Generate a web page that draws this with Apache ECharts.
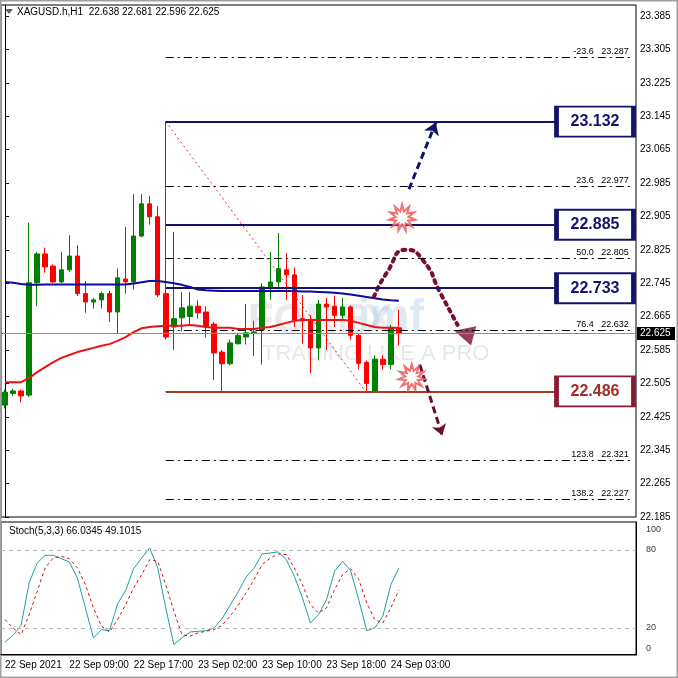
<!DOCTYPE html>
<html><head><meta charset="utf-8">
<script src="https://cdn.jsdelivr.net/npm/echarts@6/dist/echarts.min.js"></script>
<style>html,body{margin:0;padding:0;background:#fff}#c{width:678px;height:678px}</style>
</head><body><div id="c"></div>
<script>
const opens=[22.453,22.481,22.487,22.477,22.746,22.815,22.786,22.748,22.777,22.81,22.72,22.70,22.705,22.72,22.676,22.755,22.748,22.858,22.935,22.904,22.72,22.64,22.662,22.665,22.69,22.676,22.647,22.58,22.552,22.60,22.616,22.627,22.633,22.734,22.748,22.777,22.765,22.66,22.657,22.59,22.695,22.69,22.668,22.688,22.62,22.555,22.486,22.563,22.55,22.638];
const highs=[22.49,22.492,22.49,22.89,22.82,22.83,22.79,22.82,22.86,22.836,22.75,22.71,22.725,22.727,22.78,22.88,22.958,22.958,22.954,22.93,23.132,22.868,22.724,22.724,22.704,22.69,22.652,22.585,22.61,22.625,22.695,22.655,22.745,22.82,22.865,22.817,22.782,22.717,22.668,22.705,22.71,22.715,22.71,22.692,22.625,22.56,22.572,22.572,22.645,22.681];
const lows=[22.445,22.475,22.46,22.472,22.69,22.77,22.745,22.745,22.772,22.714,22.674,22.684,22.684,22.652,22.623,22.72,22.73,22.855,22.885,22.712,22.61,22.585,22.63,22.645,22.66,22.615,22.513,22.482,22.548,22.598,22.598,22.57,22.55,22.705,22.73,22.705,22.64,22.60,22.53,22.56,22.585,22.64,22.655,22.61,22.538,22.482,22.482,22.538,22.538,22.596];
const closes=[22.484,22.487,22.475,22.746,22.815,22.784,22.748,22.777,22.81,22.72,22.70,22.705,22.72,22.676,22.758,22.748,22.858,22.935,22.904,22.717,22.616,22.66,22.686,22.69,22.674,22.64,22.578,22.552,22.602,22.62,22.626,22.628,22.736,22.748,22.78,22.765,22.657,22.655,22.59,22.695,22.688,22.668,22.688,22.62,22.553,22.505,22.563,22.55,22.637,22.625];
const maSlow=[22.748,22.746,22.743,22.741,22.741,22.742,22.742,22.742,22.742,22.742,22.742,22.742,22.742,22.742,22.742,22.742,22.744,22.747,22.750,22.750,22.748,22.745,22.741,22.736,22.730,22.728,22.727,22.726,22.726,22.726,22.726,22.726,22.726,22.726,22.726,22.726,22.726,22.725,22.725,22.724,22.723,22.722,22.720,22.718,22.715,22.712,22.709,22.706,22.704,22.703];
const maFast=[22.508,22.508,22.508,22.518,22.532,22.544,22.556,22.566,22.573,22.580,22.585,22.590,22.595,22.599,22.607,22.616,22.628,22.637,22.640,22.642,22.643,22.643,22.643,22.645,22.643,22.640,22.638,22.638,22.638,22.635,22.635,22.635,22.638,22.640,22.645,22.650,22.655,22.657,22.657,22.657,22.657,22.657,22.657,22.655,22.650,22.645,22.640,22.638,22.638,22.638];
const stochMain=[9.2,14.4,22,54.6,70,75.9,75.9,73.3,70.8,58.5,35.4,12.3,18.7,17.9,38.5,48.7,65.6,73.8,81.5,66.2,35.4,7.2,12.3,16.9,17.4,17.9,20,27.2,37.4,47.7,59.2,66.2,76.9,77.7,78.5,72.5,59.7,43.1,23.8,30.2,41.8,63.6,71.3,64,41.8,17.9,20,29,53.3,66.03];
const stochSignal=[26.4,20,14.9,30.2,48.2,66.2,73.8,75.1,73.3,66.2,53.3,35.4,21.3,16.9,26.4,37.9,50.8,61,72.5,71.3,53.3,33.1,14.9,13.6,16.2,17.4,18.7,22,29,37.4,46.9,57.4,68.7,73.8,76.9,76.4,66.2,53.3,37.9,31.5,35.4,49.5,61,65.6,57.4,39.2,26.4,23.8,35.4,49.1];
const timeLabels={0:'22 Sep 2021',8:'22 Sep 09:00',16:'22 Sep 17:00',24:'23 Sep 02:00',32:'23 Sep 10:00',40:'23 Sep 18:00',48:'24 Sep 03:00'};
const levels=[{v:23.132,t:'23.132',c:'#13136b',tc:'#13136b'},{v:22.885,t:'22.885',c:'#13136b',tc:'#13136b'},{v:22.733,t:'22.733',c:'#13136b',tc:'#13136b'},{v:22.486,t:'22.486',c:'#8b1a33',tc:'#a0302a'}];
const levelLine={'22.486':'#a0401a'};
const fibo=[['-23.6',23.287],['',23.132],['23.6',22.977],['50.0',22.805],['76.4',22.632],['',22.486],['123.8',22.321],['138.2',22.227]];
const lastPrice=22.625, fiboStart=20, fiboEnd=[45,22.482];
const yTicks={min:22.185,interval:0.08};
const stochLabels=[[100,96],[80,80],[20,20],[0,4]];
const NCAT=79;
const cats=[];for(let i=0;i<NCAT;i++)cats.push(timeLabels[i]||('c'+i));
const candleData=opens.map((o,i)=>[o,closes[i],lows[i],highs[i]]);
const pad=a=>a.concat(new Array(NCAT-a.length).fill('-'));
const arrowUp=[[50.25,22.97],[53.6,23.13]];
const arrowDown=[[51.6,22.55],[54.4,22.38]];
const curve=[[45.9,22.712],[47.5,22.77],[49.9,22.825],[52,22.80],[54.2,22.72],[56.3,22.645]];
const arrowHeadPt=[57.1,22.625];
const stars=[[49.4,22.902],[50.6,22.52]];
function starPath(){let p='';const n=11;for(let i=0;i<n*2;i++){const r=i%2?0.5:1;const a=i*Math.PI/n;p+=(i?'L':'M')+(50+50*r*Math.sin(a)).toFixed(1)+' '+(50-50*r*Math.cos(a)).toFixed(1);}return 'path://'+p+'Z';}
const dashDot=[8,4,2,4];
const chart=echarts.init(document.getElementById('c'),null,{renderer:'canvas'});
const fnt='Liberation Sans';
chart.setOption({
  animation:false,backgroundColor:'#fff',
  textStyle:{fontFamily:fnt},
  grid:[{left:1,right:42,top:5,height:512,show:true,borderColor:'#000',borderWidth:1},
        {left:1,right:42,top:522,height:133,show:true,borderColor:'#000',borderWidth:1}],
  xAxis:[
    {type:'category',data:cats,gridIndex:0,boundaryGap:true,axisLine:{show:false},axisTick:{show:false},axisLabel:{show:false}},
    {type:'value',gridIndex:0,min:-0.5,max:NCAT-0.5,show:false},
    {type:'category',data:cats,gridIndex:1,boundaryGap:true,axisLine:{lineStyle:{color:'#000'}},
     axisTick:{alignWithLabel:true,interval:(i)=>timeLabels[i]!==undefined,lineStyle:{color:'#000'},length:4},
     axisLabel:{interval:(i)=>timeLabels[i]!==undefined,formatter:v=>v.startsWith('c')?'':v,align:'left',color:'#000',fontSize:10,margin:5,fontFamily:fnt}}
  ],
  yAxis:[
    {type:'value',gridIndex:0,position:'right',min:yTicks.min,max:yTicks.min+512*0.002395,interval:yTicks.interval,splitLine:{show:false},
     axisLine:{show:true,lineStyle:{color:'#000'}},axisTick:{show:true,length:4,lineStyle:{color:'#000'}},
     axisLabel:{color:'#000',fontSize:10,margin:4,formatter:v=>v.toFixed(3),showMaxLabel:false,fontFamily:fnt}},
    {type:'value',gridIndex:1,position:'right',min:-0.8,max:101.5,splitLine:{show:false},axisLine:{show:true,lineStyle:{color:'#000'}},axisTick:{show:false},axisLabel:{show:false}}
  ],
  series:[
    {type:'candlestick',xAxisIndex:0,yAxisIndex:0,data:candleData,barWidth:5,
     itemStyle:{color:'#008000',color0:'#ff0000',borderColor:'#008000',borderColor0:'#ff0000',borderWidth:1}},
    {type:'line',xAxisIndex:0,yAxisIndex:0,data:pad(maSlow),symbol:'none',lineStyle:{color:'#0a0aa0',width:2},z:3},
    {type:'line',xAxisIndex:0,yAxisIndex:0,data:pad(maFast),symbol:'none',lineStyle:{color:'#ee1111',width:2},z:3},
    {type:'line',xAxisIndex:1,yAxisIndex:0,data:[],symbol:'none',z:1,
     markLine:{silent:true,symbol:'none',animation:false,
       data:[
         [{coord:[-0.5,lastPrice],lineStyle:{color:'#8c8c8c',width:1,type:'solid'},label:{show:false}},{coord:[NCAT-0.5,lastPrice]}],
         [{coord:[fiboStart,highs[fiboStart]],lineStyle:{color:'#e03030',width:1,type:[2,3]},label:{show:false}},{coord:fiboEnd}],
         ...fibo.map(f=>[{coord:[fiboStart,f[1]],lineStyle:{color:'#000',width:1,type:dashDot},
            label:{show:!!f[0],position:'insideEndTop',formatter:f[0]+'   '+f[1].toFixed(3),color:'#000',fontSize:9,distance:[4,1]}},{coord:[NCAT-0.9,f[1]]}]),
         ...levels.map(l=>[{coord:[fiboStart,l.v],lineStyle:{color:levelLine[l.t]||l.c,width:2,type:'solid'},label:{show:false}},{coord:[NCAT-0.5,l.v]}]),
         [{coord:arrowUp[0],lineStyle:{color:'#13136b',width:3,type:[7,4]},symbol:'none',label:{show:false}},{coord:arrowUp[1],symbol:'arrow',symbolSize:12}],
         [{coord:arrowDown[0],lineStyle:{color:'#6b0f2a',width:3,type:[7,4]},symbol:'none',label:{show:false}},{coord:arrowDown[1],symbol:'arrow',symbolSize:11}]
       ]},
     markPoint:{silent:true,animation:false,data:levels.map(l=>({coord:[73.4,l.v],symbol:'rect',symbolSize:[77,30],
        itemStyle:{color:'#fff',borderColor:l.c,borderWidth:3},
        label:{show:true,position:'inside',formatter:l.t,color:l.tc,fontWeight:'bold',fontSize:16,fontFamily:'Liberation Sans'}}))}},
    {type:'line',xAxisIndex:1,yAxisIndex:0,data:curve,smooth:0.6,symbol:'none',lineStyle:{color:'#7a1030',width:4,type:[3,5],cap:'round'},z:4},
    {type:'scatter',xAxisIndex:1,yAxisIndex:0,data:[arrowHeadPt],symbol:'triangle',symbolSize:[20,20],symbolRotate:75,itemStyle:{color:'#7a1030'},z:4},
    {type:'scatter',xAxisIndex:1,yAxisIndex:0,data:stars,symbol:starPath(),symbolSize:26,itemStyle:{color:'#fff',borderColor:'#f04a4a',borderWidth:2},z:5},
    {type:'line',xAxisIndex:2,yAxisIndex:1,data:pad(stochMain),symbol:'none',lineStyle:{color:'#20a0a0',width:1},
     markLine:{silent:true,symbol:'none',animation:false,data:[
       {yAxis:80,lineStyle:{color:'#bbb',type:[4,4],width:1},label:{show:false}},
       {yAxis:20,lineStyle:{color:'#bbb',type:[4,4],width:1},label:{show:false}}]}},
    {type:'line',xAxisIndex:2,yAxisIndex:1,data:pad(stochSignal),symbol:'none',lineStyle:{color:'#d01010',width:1,type:[3,3]}},
    {type:'scatter',xAxisIndex:2,yAxisIndex:1,data:stochLabels.map(s=>[NCAT-1,s[1],s[0]]),symbolSize:0,silent:true,
     label:{show:true,position:'right',distance:14,formatter:p=>String(p.value[2]),color:'#000',fontSize:9}}
  ],
  graphic:[
    {type:'rect',shape:{x:0.5,y:0.5,width:677,height:677},style:{fill:'none',stroke:'#a0a0a0',lineWidth:2},silent:true},
    {type:'text',left:248,top:300,style:{text:'FOREX',font:'bold 42px Liberation Sans',fill:'rgba(150,160,175,0.22)'},z:0},
    {type:'text',left:358,top:296,style:{text:'imf',font:'bold 44px Liberation Sans',fill:'rgba(120,170,215,0.25)'},z:0},
    {type:'text',left:262,top:343,style:{text:'TRADING LIKE A PRO',font:'22px Liberation Sans',fill:'rgba(150,160,175,0.25)'},z:0},
    {type:'polygon',shape:{points:[[5,9],[13,9],[9,14]]},style:{fill:'#606060'}},
    {type:'text',left:17,top:7,style:{text:'XAGUSD.h,H1  22.638 22.681 22.596 22.625',font:'10px Liberation Sans',fill:'#000'}},
    {type:'text',left:9,top:526,style:{text:'Stoch(5,3,3) 66.0345 49.1015',font:'10px Liberation Sans',fill:'#000'}},
    {type:'rect',shape:{x:637,y:327,width:38,height:13},style:{fill:'#000'},z:10},
    {type:'text',left:640,top:328,style:{text:'22.625',font:'10px Liberation Sans',fill:'#fff'},z:11}
  ]
});
</script></body></html>
